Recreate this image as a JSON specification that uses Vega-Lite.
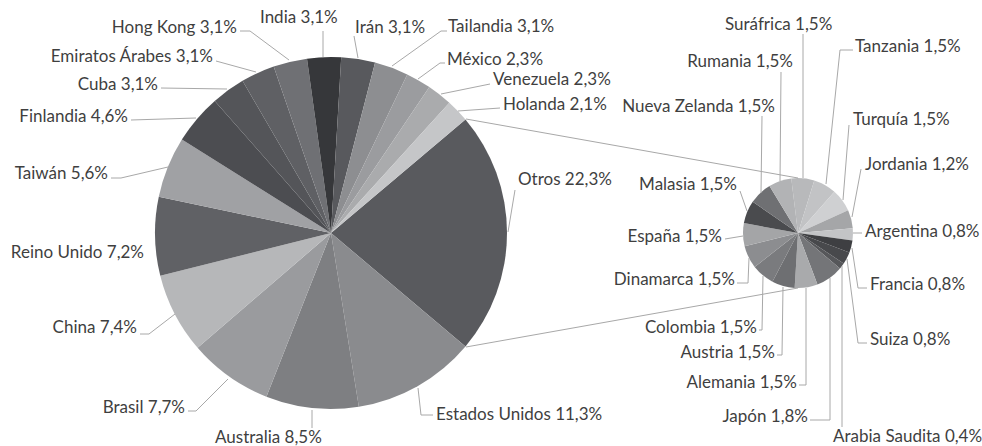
{
  "$schema": "https://vega.github.io/schema/vega-lite/v6.json",
  "width": 982,
  "height": 446,
  "autosize": "none",
  "padding": 0,
  "background": "white",
  "data": {
    "values": [
      {"pais": "Otros", "valor": 22.3, "grupo": "principal"},
      {"pais": "Estados Unidos", "valor": 11.3, "grupo": "principal"},
      {"pais": "Australia", "valor": 8.5, "grupo": "principal"},
      {"pais": "Brasil", "valor": 7.7, "grupo": "principal"},
      {"pais": "China", "valor": 7.4, "grupo": "principal"},
      {"pais": "Reino Unido", "valor": 7.2, "grupo": "principal"},
      {"pais": "Taiwán", "valor": 5.6, "grupo": "principal"},
      {"pais": "Finlandia", "valor": 4.6, "grupo": "principal"},
      {"pais": "Cuba", "valor": 3.1, "grupo": "principal"},
      {"pais": "Emiratos Árabes", "valor": 3.1, "grupo": "principal"},
      {"pais": "Hong Kong", "valor": 3.1, "grupo": "principal"},
      {"pais": "India", "valor": 3.1, "grupo": "principal"},
      {"pais": "Irán", "valor": 3.1, "grupo": "principal"},
      {"pais": "Tailandia", "valor": 3.1, "grupo": "principal"},
      {"pais": "México", "valor": 2.3, "grupo": "principal"},
      {"pais": "Venezuela", "valor": 2.3, "grupo": "principal"},
      {"pais": "Holanda", "valor": 2.1, "grupo": "principal"},
      {"pais": "Suráfrica", "valor": 1.5, "grupo": "otros"},
      {"pais": "Tanzania", "valor": 1.5, "grupo": "otros"},
      {"pais": "Turquía", "valor": 1.5, "grupo": "otros"},
      {"pais": "Jordania", "valor": 1.2, "grupo": "otros"},
      {"pais": "Argentina", "valor": 0.8, "grupo": "otros"},
      {"pais": "Francia", "valor": 0.8, "grupo": "otros"},
      {"pais": "Suiza", "valor": 0.8, "grupo": "otros"},
      {"pais": "Arabia Saudita", "valor": 0.4, "grupo": "otros"},
      {"pais": "Japón", "valor": 1.8, "grupo": "otros"},
      {"pais": "Alemania", "valor": 1.5, "grupo": "otros"},
      {"pais": "Austria", "valor": 1.5, "grupo": "otros"},
      {"pais": "Colombia", "valor": 1.5, "grupo": "otros"},
      {"pais": "Dinamarca", "valor": 1.5, "grupo": "otros"},
      {"pais": "España", "valor": 1.5, "grupo": "otros"},
      {"pais": "Malasia", "valor": 1.5, "grupo": "otros"},
      {"pais": "Nueva Zelanda", "valor": 1.5, "grupo": "otros"},
      {"pais": "Rumania", "valor": 1.5, "grupo": "otros"}
    ]
  },
  "transform": [
    {"calculate": "datum.pais + ' ' + replace(format(datum.valor, '.1f'), '.', ',') + '%'", "as": "etiqueta"}
  ],
  "layer": [
    {
      "transform": [{"filter": "datum.grupo === 'principal'"}, {"window": [{"op": "row_number", "as": "orden"}]}],
      "mark": {"type": "arc", "outerRadius": 176},
      "encoding": {
        "x": {"datum": 331, "type": "quantitative", "scale": {"domain": [0, 982], "nice": false, "zero": false}, "axis": null},
        "y": {"datum": 233, "type": "quantitative", "scale": {"domain": [0, 446], "nice": false, "zero": false, "reverse": true}, "axis": null},
        "theta": {"field": "valor", "type": "quantitative", "stack": true, "scale": {"range": [0.8695, 7.1527]}},
        "color": {
          "field": "pais", "type": "nominal", "legend": null,
          "scale": {
            "domain": ["Otros","Estados Unidos","Australia","Brasil","China","Reino Unido","Taiwán","Finlandia","Cuba","Emiratos Árabes","Hong Kong","India","Irán","Tailandia","México","Venezuela","Holanda","Suráfrica","Tanzania","Turquía","Jordania","Argentina","Francia","Suiza","Arabia Saudita","Japón","Alemania","Austria","Colombia","Dinamarca","España","Malasia","Nueva Zelanda","Rumania"],
            "range": ["#595a5e","#8a8b8e","#7e7f82","#9a9b9e","#b6b7b9","#606165","#a0a1a4","#4c4d51","#545559","#5f6064","#6f7074","#36373a","#58595d","#8d8e91","#9b9c9f","#aaabad","#c5c6c8","#b8b9bb","#c2c3c5","#cfd0d2","#a5a6a8","#c3c4c6","#3e3f42","#48494c","#56575a","#747578","#a9aaac","#6e6f72","#7a7b7e","#8c8d90","#a4a5a7","#4a4b4e","#6f7073","#b2b3b5"]
          }
        },
        "order": {"field": "orden", "type": "quantitative"}
      }
    },
    {
      "transform": [{"filter": "datum.grupo === 'otros'"}, {"window": [{"op": "row_number", "as": "orden"}]}],
      "mark": {"type": "arc", "outerRadius": 55},
      "encoding": {
        "x": {"datum": 798, "type": "quantitative"},
        "y": {"datum": 233, "type": "quantitative"},
        "theta": {"field": "valor", "type": "quantitative", "stack": true, "scale": {"range": [-0.1222, 6.1610]}},
        "color": {"field": "pais", "type": "nominal", "legend": null},
        "order": {"field": "orden", "type": "quantitative"}
      }
    },
    {"transform": [{"filter": {"field": "pais", "equal": "Otros"}}], "layer": [
      {"mark": "rule", "encoding": {"x": {"datum": 466}, "y": {"datum": 119}, "x2": {"datum": 798}, "y2": {"datum": 178}}},
      {"mark": "rule", "encoding": {"x": {"datum": 466}, "y": {"datum": 347}, "x2": {"datum": 798}, "y2": {"datum": 288}}},
      {"mark": "rule", "encoding": {"x": {"datum": 515}, "y": {"datum": 190}, "x2": {"datum": 508}, "y2": {"datum": 232}}},
      {"mark": {"type": "text", "align": "left"}, "encoding": {"x": {"datum": 518}, "y": {"datum": 180}, "text": {"field": "etiqueta"}}}
    ]},
    {"transform": [{"filter": {"field": "pais", "equal": "Estados Unidos"}}], "layer": [
      {"mark": "rule", "encoding": {"x": {"datum": 433}, "y": {"datum": 415}, "x2": {"datum": 421}, "y2": {"datum": 415}}},
      {"mark": "rule", "encoding": {"x": {"datum": 421}, "y": {"datum": 415}, "x2": {"datum": 418}, "y2": {"datum": 388}}},
      {"mark": {"type": "text", "align": "left"}, "encoding": {"x": {"datum": 436}, "y": {"datum": 415}, "text": {"field": "etiqueta"}}}
    ]},
    {"transform": [{"filter": {"field": "pais", "equal": "Australia"}}], "layer": [
      {"mark": "rule", "encoding": {"x": {"datum": 312}, "y": {"datum": 428}, "x2": {"datum": 312}, "y2": {"datum": 410}}},
      {"mark": {"type": "text", "align": "left"}, "encoding": {"x": {"datum": 215}, "y": {"datum": 438}, "text": {"field": "etiqueta"}}}
    ]},
    {"transform": [{"filter": {"field": "pais", "equal": "Brasil"}}], "layer": [
      {"mark": "rule", "encoding": {"x": {"datum": 188}, "y": {"datum": 411}, "x2": {"datum": 196}, "y2": {"datum": 411}}},
      {"mark": "rule", "encoding": {"x": {"datum": 196}, "y": {"datum": 411}, "x2": {"datum": 228}, "y2": {"datum": 379}}},
      {"mark": {"type": "text", "align": "right"}, "encoding": {"x": {"datum": 185}, "y": {"datum": 408}, "text": {"field": "etiqueta"}}}
    ]},
    {"transform": [{"filter": {"field": "pais", "equal": "China"}}], "layer": [
      {"mark": "rule", "encoding": {"x": {"datum": 140}, "y": {"datum": 334}, "x2": {"datum": 149}, "y2": {"datum": 334}}},
      {"mark": "rule", "encoding": {"x": {"datum": 149}, "y": {"datum": 334}, "x2": {"datum": 175}, "y2": {"datum": 314}}},
      {"mark": {"type": "text", "align": "right"}, "encoding": {"x": {"datum": 137}, "y": {"datum": 328}, "text": {"field": "etiqueta"}}}
    ]},
    {"transform": [{"filter": {"field": "pais", "equal": "Reino Unido"}}], "layer": [
      {"mark": {"type": "text", "align": "right"}, "encoding": {"x": {"datum": 144}, "y": {"datum": 253}, "text": {"field": "etiqueta"}}}
    ]},
    {"transform": [{"filter": {"field": "pais", "equal": "Taiwán"}}], "layer": [
      {"mark": "rule", "encoding": {"x": {"datum": 111}, "y": {"datum": 178}, "x2": {"datum": 121}, "y2": {"datum": 178}}},
      {"mark": "rule", "encoding": {"x": {"datum": 121}, "y": {"datum": 178}, "x2": {"datum": 168}, "y2": {"datum": 167}}},
      {"mark": {"type": "text", "align": "right"}, "encoding": {"x": {"datum": 108}, "y": {"datum": 174}, "text": {"field": "etiqueta"}}}
    ]},
    {"transform": [{"filter": {"field": "pais", "equal": "Finlandia"}}], "layer": [
      {"mark": "rule", "encoding": {"x": {"datum": 131}, "y": {"datum": 120}, "x2": {"datum": 196}, "y2": {"datum": 118}}},
      {"mark": {"type": "text", "align": "right"}, "encoding": {"x": {"datum": 128}, "y": {"datum": 117}, "text": {"field": "etiqueta"}}}
    ]},
    {"transform": [{"filter": {"field": "pais", "equal": "Cuba"}}], "layer": [
      {"mark": "rule", "encoding": {"x": {"datum": 161}, "y": {"datum": 88}, "x2": {"datum": 227}, "y2": {"datum": 89}}},
      {"mark": {"type": "text", "align": "right"}, "encoding": {"x": {"datum": 158}, "y": {"datum": 85}, "text": {"field": "etiqueta"}}}
    ]},
    {"transform": [{"filter": {"field": "pais", "equal": "Emiratos Árabes"}}], "layer": [
      {"mark": "rule", "encoding": {"x": {"datum": 216}, "y": {"datum": 61}, "x2": {"datum": 256}, "y2": {"datum": 72}}},
      {"mark": {"type": "text", "align": "right"}, "encoding": {"x": {"datum": 213}, "y": {"datum": 57}, "text": {"field": "etiqueta"}}}
    ]},
    {"transform": [{"filter": {"field": "pais", "equal": "Hong Kong"}}], "layer": [
      {"mark": "rule", "encoding": {"x": {"datum": 240}, "y": {"datum": 31}, "x2": {"datum": 250}, "y2": {"datum": 31}}},
      {"mark": "rule", "encoding": {"x": {"datum": 250}, "y": {"datum": 31}, "x2": {"datum": 289}, "y2": {"datum": 60}}},
      {"mark": {"type": "text", "align": "right"}, "encoding": {"x": {"datum": 237}, "y": {"datum": 28}, "text": {"field": "etiqueta"}}}
    ]},
    {"transform": [{"filter": {"field": "pais", "equal": "India"}}], "layer": [
      {"mark": "rule", "encoding": {"x": {"datum": 323}, "y": {"datum": 31}, "x2": {"datum": 323}, "y2": {"datum": 57}}},
      {"mark": {"type": "text", "align": "left"}, "encoding": {"x": {"datum": 260}, "y": {"datum": 18}, "text": {"field": "etiqueta"}}}
    ]},
    {"transform": [{"filter": {"field": "pais", "equal": "Irán"}}], "layer": [
      {"mark": "rule", "encoding": {"x": {"datum": 354}, "y": {"datum": 36}, "x2": {"datum": 358}, "y2": {"datum": 58}}},
      {"mark": {"type": "text", "align": "left"}, "encoding": {"x": {"datum": 355}, "y": {"datum": 28}, "text": {"field": "etiqueta"}}}
    ]},
    {"transform": [{"filter": {"field": "pais", "equal": "Tailandia"}}], "layer": [
      {"mark": "rule", "encoding": {"x": {"datum": 447}, "y": {"datum": 31}, "x2": {"datum": 441}, "y2": {"datum": 31}}},
      {"mark": "rule", "encoding": {"x": {"datum": 441}, "y": {"datum": 31}, "x2": {"datum": 392}, "y2": {"datum": 66}}},
      {"mark": {"type": "text", "align": "left"}, "encoding": {"x": {"datum": 448}, "y": {"datum": 27}, "text": {"field": "etiqueta"}}}
    ]},
    {"transform": [{"filter": {"field": "pais", "equal": "México"}}], "layer": [
      {"mark": "rule", "encoding": {"x": {"datum": 445}, "y": {"datum": 63}, "x2": {"datum": 440}, "y2": {"datum": 63}}},
      {"mark": "rule", "encoding": {"x": {"datum": 440}, "y": {"datum": 63}, "x2": {"datum": 418}, "y2": {"datum": 79}}},
      {"mark": {"type": "text", "align": "left"}, "encoding": {"x": {"datum": 447}, "y": {"datum": 60}, "text": {"field": "etiqueta"}}}
    ]},
    {"transform": [{"filter": {"field": "pais", "equal": "Venezuela"}}], "layer": [
      {"mark": "rule", "encoding": {"x": {"datum": 490}, "y": {"datum": 84}, "x2": {"datum": 441}, "y2": {"datum": 94}}},
      {"mark": {"type": "text", "align": "left"}, "encoding": {"x": {"datum": 493}, "y": {"datum": 80}, "text": {"field": "etiqueta"}}}
    ]},
    {"transform": [{"filter": {"field": "pais", "equal": "Holanda"}}], "layer": [
      {"mark": "rule", "encoding": {"x": {"datum": 500}, "y": {"datum": 108}, "x2": {"datum": 458}, "y2": {"datum": 111}}},
      {"mark": {"type": "text", "align": "left"}, "encoding": {"x": {"datum": 503}, "y": {"datum": 105}, "text": {"field": "etiqueta"}}}
    ]},
    {"transform": [{"filter": {"field": "pais", "equal": "Suráfrica"}}], "layer": [
      {"mark": "rule", "encoding": {"x": {"datum": 803}, "y": {"datum": 34}, "x2": {"datum": 803}, "y2": {"datum": 178}}},
      {"mark": {"type": "text", "align": "left"}, "encoding": {"x": {"datum": 725}, "y": {"datum": 25}, "text": {"field": "etiqueta"}}}
    ]},
    {"transform": [{"filter": {"field": "pais", "equal": "Tanzania"}}], "layer": [
      {"mark": "rule", "encoding": {"x": {"datum": 853}, "y": {"datum": 50}, "x2": {"datum": 840}, "y2": {"datum": 50}}},
      {"mark": "rule", "encoding": {"x": {"datum": 840}, "y": {"datum": 50}, "x2": {"datum": 826}, "y2": {"datum": 184}}},
      {"mark": {"type": "text", "align": "left"}, "encoding": {"x": {"datum": 855}, "y": {"datum": 47}, "text": {"field": "etiqueta"}}}
    ]},
    {"transform": [{"filter": {"field": "pais", "equal": "Turquía"}}], "layer": [
      {"mark": "rule", "encoding": {"x": {"datum": 849}, "y": {"datum": 125}, "x2": {"datum": 843}, "y2": {"datum": 200}}},
      {"mark": {"type": "text", "align": "left"}, "encoding": {"x": {"datum": 853}, "y": {"datum": 120}, "text": {"field": "etiqueta"}}}
    ]},
    {"transform": [{"filter": {"field": "pais", "equal": "Jordania"}}], "layer": [
      {"mark": "rule", "encoding": {"x": {"datum": 861}, "y": {"datum": 169}, "x2": {"datum": 852}, "y2": {"datum": 217}}},
      {"mark": {"type": "text", "align": "left"}, "encoding": {"x": {"datum": 865}, "y": {"datum": 165}, "text": {"field": "etiqueta"}}}
    ]},
    {"transform": [{"filter": {"field": "pais", "equal": "Argentina"}}], "layer": [
      {"mark": "rule", "encoding": {"x": {"datum": 853}, "y": {"datum": 233}, "x2": {"datum": 862}, "y2": {"datum": 233}}},
      {"mark": {"type": "text", "align": "left"}, "encoding": {"x": {"datum": 865}, "y": {"datum": 232}, "text": {"field": "etiqueta"}}}
    ]},
    {"transform": [{"filter": {"field": "pais", "equal": "Francia"}}], "layer": [
      {"mark": "rule", "encoding": {"x": {"datum": 867}, "y": {"datum": 288}, "x2": {"datum": 858}, "y2": {"datum": 288}}},
      {"mark": "rule", "encoding": {"x": {"datum": 858}, "y": {"datum": 288}, "x2": {"datum": 852}, "y2": {"datum": 248}}},
      {"mark": {"type": "text", "align": "left"}, "encoding": {"x": {"datum": 870}, "y": {"datum": 285}, "text": {"field": "etiqueta"}}}
    ]},
    {"transform": [{"filter": {"field": "pais", "equal": "Suiza"}}], "layer": [
      {"mark": "rule", "encoding": {"x": {"datum": 867}, "y": {"datum": 343}, "x2": {"datum": 858}, "y2": {"datum": 343}}},
      {"mark": "rule", "encoding": {"x": {"datum": 858}, "y": {"datum": 343}, "x2": {"datum": 847}, "y2": {"datum": 259}}},
      {"mark": {"type": "text", "align": "left"}, "encoding": {"x": {"datum": 870}, "y": {"datum": 340}, "text": {"field": "etiqueta"}}}
    ]},
    {"transform": [{"filter": {"field": "pais", "equal": "Arabia Saudita"}}], "layer": [
      {"mark": "rule", "encoding": {"x": {"datum": 842}, "y": {"datum": 427}, "x2": {"datum": 842}, "y2": {"datum": 266}}},
      {"mark": {"type": "text", "align": "left"}, "encoding": {"x": {"datum": 833}, "y": {"datum": 437}, "text": {"field": "etiqueta"}}}
    ]},
    {"transform": [{"filter": {"field": "pais", "equal": "Japón"}}], "layer": [
      {"mark": "rule", "encoding": {"x": {"datum": 810}, "y": {"datum": 420}, "x2": {"datum": 830}, "y2": {"datum": 420}}},
      {"mark": "rule", "encoding": {"x": {"datum": 830}, "y": {"datum": 420}, "x2": {"datum": 830}, "y2": {"datum": 278}}},
      {"mark": {"type": "text", "align": "right"}, "encoding": {"x": {"datum": 808}, "y": {"datum": 417}, "text": {"field": "etiqueta"}}}
    ]},
    {"transform": [{"filter": {"field": "pais", "equal": "Alemania"}}], "layer": [
      {"mark": "rule", "encoding": {"x": {"datum": 799}, "y": {"datum": 385}, "x2": {"datum": 806}, "y2": {"datum": 385}}},
      {"mark": "rule", "encoding": {"x": {"datum": 806}, "y": {"datum": 385}, "x2": {"datum": 806}, "y2": {"datum": 288}}},
      {"mark": {"type": "text", "align": "right"}, "encoding": {"x": {"datum": 797}, "y": {"datum": 383}, "text": {"field": "etiqueta"}}}
    ]},
    {"transform": [{"filter": {"field": "pais", "equal": "Austria"}}], "layer": [
      {"mark": "rule", "encoding": {"x": {"datum": 777}, "y": {"datum": 355}, "x2": {"datum": 782}, "y2": {"datum": 355}}},
      {"mark": "rule", "encoding": {"x": {"datum": 782}, "y": {"datum": 355}, "x2": {"datum": 783}, "y2": {"datum": 287}}},
      {"mark": {"type": "text", "align": "right"}, "encoding": {"x": {"datum": 775}, "y": {"datum": 353}, "text": {"field": "etiqueta"}}}
    ]},
    {"transform": [{"filter": {"field": "pais", "equal": "Colombia"}}], "layer": [
      {"mark": "rule", "encoding": {"x": {"datum": 759}, "y": {"datum": 330}, "x2": {"datum": 762}, "y2": {"datum": 330}}},
      {"mark": "rule", "encoding": {"x": {"datum": 762}, "y": {"datum": 330}, "x2": {"datum": 763}, "y2": {"datum": 276}}},
      {"mark": {"type": "text", "align": "right"}, "encoding": {"x": {"datum": 757}, "y": {"datum": 328}, "text": {"field": "etiqueta"}}}
    ]},
    {"transform": [{"filter": {"field": "pais", "equal": "Dinamarca"}}], "layer": [
      {"mark": "rule", "encoding": {"x": {"datum": 737}, "y": {"datum": 283}, "x2": {"datum": 748}, "y2": {"datum": 283}}},
      {"mark": "rule", "encoding": {"x": {"datum": 748}, "y": {"datum": 283}, "x2": {"datum": 749}, "y2": {"datum": 258}}},
      {"mark": {"type": "text", "align": "right"}, "encoding": {"x": {"datum": 735}, "y": {"datum": 280}, "text": {"field": "etiqueta"}}}
    ]},
    {"transform": [{"filter": {"field": "pais", "equal": "España"}}], "layer": [
      {"mark": "rule", "encoding": {"x": {"datum": 725}, "y": {"datum": 239}, "x2": {"datum": 743}, "y2": {"datum": 236}}},
      {"mark": {"type": "text", "align": "right"}, "encoding": {"x": {"datum": 722}, "y": {"datum": 237}, "text": {"field": "etiqueta"}}}
    ]},
    {"transform": [{"filter": {"field": "pais", "equal": "Malasia"}}], "layer": [
      {"mark": "rule", "encoding": {"x": {"datum": 740}, "y": {"datum": 191}, "x2": {"datum": 747}, "y2": {"datum": 211}}},
      {"mark": {"type": "text", "align": "right"}, "encoding": {"x": {"datum": 737}, "y": {"datum": 185}, "text": {"field": "etiqueta"}}}
    ]},
    {"transform": [{"filter": {"field": "pais", "equal": "Nueva Zelanda"}}], "layer": [
      {"mark": "rule", "encoding": {"x": {"datum": 762}, "y": {"datum": 116}, "x2": {"datum": 761}, "y2": {"datum": 193}}},
      {"mark": {"type": "text", "align": "right"}, "encoding": {"x": {"datum": 775}, "y": {"datum": 107}, "text": {"field": "etiqueta"}}}
    ]},
    {"transform": [{"filter": {"field": "pais", "equal": "Rumania"}}], "layer": [
      {"mark": "rule", "encoding": {"x": {"datum": 781}, "y": {"datum": 72}, "x2": {"datum": 780}, "y2": {"datum": 181}}},
      {"mark": {"type": "text", "align": "right"}, "encoding": {"x": {"datum": 793}, "y": {"datum": 62}, "text": {"field": "etiqueta"}}}
    ]}
  ],
  "resolve": {"scale": {"theta": "independent"}},
  "config": {
    "view": {"stroke": null},
    "text": {"font": "Lato", "fontSize": 17, "fill": "#3f3f3f", "baseline": "middle"},
    "rule": {"stroke": "#a8a8a8", "strokeWidth": 1}
  }
}
